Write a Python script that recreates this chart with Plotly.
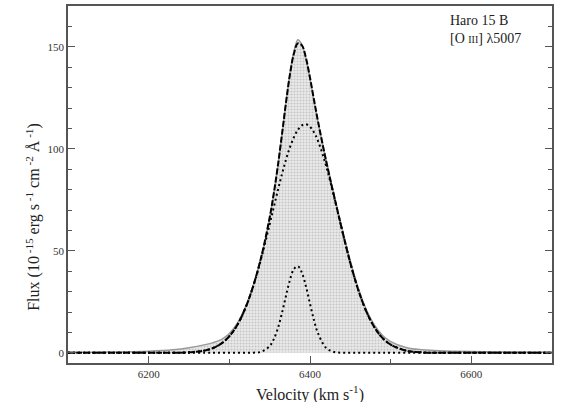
import plotly.graph_objects as go

velocity = [6100, 6150, 6200, 6230, 6250, 6270, 6280, 6290, 6300, 6310, 6320, 6330, 6340,
            6350, 6355, 6360, 6365, 6370, 6375, 6380, 6385, 6390, 6395, 6400, 6405, 6410,
            6420, 6430, 6440, 6450, 6460, 6470, 6480, 6490, 6500, 6520, 6540, 6560, 6600,
            6650, 6700]

observed = [0.3, 0.4, 0.8, 1.5, 2.5, 4.0, 5.0, 6.5, 9.5, 14.5, 22.5, 33.5, 47.5,
            66.0, 78.0, 91.0, 106.0, 122.0, 136.5, 147.5, 153.5, 151.0, 144.0, 134.5, 123.5, 113.0,
            94.5, 77.0, 60.5, 45.0, 31.5, 21.0, 13.5, 8.5, 5.5, 2.5, 1.5, 1.0, 0.6,
            0.4, 0.3]

total_fit = [0, 0, 0, 0.04, 0.23, 1.16, 2.34, 4.5, 8.1, 13.7, 22.0, 33.2, 47.7,
             66.3, 77.8, 91.2, 106.3, 121.9, 136.1, 146.6, 151.7, 150.7, 144.5, 134.8, 123.9, 113.3,
             94.0, 76.6, 59.8, 44.0, 30.6, 20.1, 12.4, 7.2, 4.0, 1.0, 0.2, 0, 0,
             0, 0]

broad_comp = [0, 0, 0, 0.04, 0.23, 1.16, 2.34, 4.5, 8.1, 13.7, 22.0, 33.1, 47.1,
              63.0, 71.2, 79.4, 87.2, 94.4, 100.6, 105.6, 109.3, 111.5, 112.0, 110.8, 108.0, 103.8,
              91.6, 76.2, 59.7, 44.0, 30.6, 20.1, 12.4, 7.2, 4.0, 1.0, 0.2, 0, 0,
              0, 0]

narrow_comp = [0, 0, 0, 0, 0, 0, 0, 0, 0, 0, 0, 0.07, 0.57,
               3.3, 6.6, 11.8, 19.1, 27.5, 35.5, 41.0, 42.4, 39.2, 32.5, 24.0, 15.9, 9.5,
               2.4, 0.4, 0.05, 0, 0, 0, 0, 0, 0, 0, 0, 0, 0,
               0, 0]

x_ticks = [6200, 6400, 6600]
y_ticks = [0, 50, 100, 150]

SERIF = "Liberation Serif, Times New Roman, serif"

fig = go.Figure()

fig.add_trace(go.Scatter(
    x=velocity, y=observed, mode="lines", line=dict(color="#9a9a9a", width=1.5, shape="spline"),
    fill="tozeroy", fillcolor="#e6e6e6",
    fillpattern=dict(shape=".", size=3, solidity=0.4, fgcolor="#a0a0a0", bgcolor="#ebebeb"),
    showlegend=False, hoverinfo="skip"))

fig.add_trace(go.Scatter(
    x=velocity, y=narrow_comp, mode="lines",
    line=dict(color="black", width=2, dash="2px,3px", shape="spline"), showlegend=False))

fig.add_trace(go.Scatter(
    x=velocity, y=broad_comp, mode="lines",
    line=dict(color="black", width=2, dash="2px,3px", shape="spline"), showlegend=False))

fig.add_trace(go.Scatter(
    x=velocity, y=total_fit, mode="lines",
    line=dict(color="black", width=2, dash="6px,2px", shape="spline"), showlegend=False))

axis_font = dict(family=SERIF, size=11, color="#333")

fig.update_xaxes(
    range=[6100, 6700], tickvals=x_ticks, ticks="inside", ticklen=7, tickwidth=1, tickcolor="#555",
    showline=True, linecolor="#555", linewidth=1.5, mirror=True, showgrid=False, zeroline=False,
    minor=dict(dtick=100, tick0=6100, ticks="inside", ticklen=4, tickcolor="#555"),
    tickfont=axis_font, automargin=False)

fig.update_yaxes(
    range=[-5, 170], tickvals=y_ticks, ticks="inside", ticklen=7, tickwidth=1, tickcolor="#555",
    showline=True, linecolor="#555", linewidth=1.5, mirror="ticks", showgrid=False, zeroline=False,
    minor=dict(dtick=10, tick0=0, ticks="inside", ticklen=4, tickcolor="#555"),
    tickfont=axis_font, automargin=False)

fig.add_annotation(
    xref="paper", yref="paper", x=0.5, y=-0.085, xanchor="center", yanchor="middle",
    showarrow=False, text="Velocity (km s<sup>-1</sup>)",
    font=dict(family=SERIF, size=16, color="#222"))

fig.add_annotation(
    xref="paper", yref="paper", x=-0.072, y=0.41, xanchor="center", yanchor="middle",
    textangle=-90, showarrow=False,
    text="Flux (10<sup> -15</sup> erg s<sup> -1</sup> cm<sup> -2</sup> Å<sup> -1</sup>)",
    font=dict(family=SERIF, size=16, color="#222"))

fig.add_annotation(
    xref="paper", yref="paper", x=0.785, y=0.985, xanchor="left", yanchor="top", align="left",
    showarrow=False,
    text="Haro 15 B<br>[O <span style='font-size:10px'>III</span>] λ5007",
    font=dict(family=SERIF, size=14, color="#222"))

fig.update_layout(
    width=562, height=402, margin=dict(l=68, r=10, t=6, b=39),
    paper_bgcolor="white", plot_bgcolor="white")

fig.write_html("out.html")
